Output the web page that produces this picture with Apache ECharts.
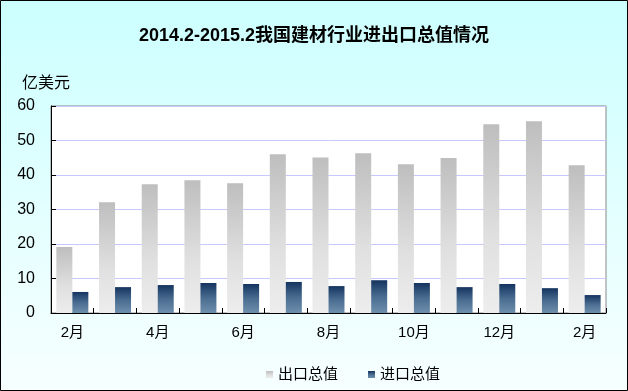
<!DOCTYPE html>
<html><head><meta charset="utf-8">
<script src="https://cdn.jsdelivr.net/npm/echarts@6/dist/echarts.min.js"></script>
<style>html,body{margin:0;padding:0;}#c{width:628px;height:391px;}</style>
</head><body><div id="c"></div>
<script>
var categories = ['2月','3月','4月','5月','6月','7月','8月','9月','10月','11月','12月','1月','2月'];
var exportValues = [19.1, 32.1, 37.3, 38.5, 37.6, 46.0, 45.1, 46.3, 43.1, 44.9, 54.7, 55.6, 42.8];
var importValues = [6.1, 7.5, 8.1, 8.7, 8.4, 9.0, 7.8, 9.5, 8.7, 7.5, 8.4, 7.2, 5.2];
var seriesNames = ['出口总值', '进口总值'];
var yTicks = {min: 0, max: 60, interval: 10};

var font = 'Liberation Sans, Arial, "Noto Sans CJK SC", sans-serif';
var chart = echarts.init(document.getElementById('c'));
chart.setOption({
  animation: false,
  backgroundColor: new echarts.graphic.LinearGradient(0,0,0,1,[{offset:0,color:'#CCFFFF'},{offset:1,color:'#F7FFFF'}]),
  graphic: [{type:'rect', shape:{x:0.5,y:0.5,width:627,height:390}, style:{fill:'none',stroke:'#000',lineWidth:1}, z:100}],
  title: {text:'2014.2-2015.2我国建材行业进出口总值情况', left:'center', top:22,
    textStyle:{fontFamily:font, fontSize:18, fontWeight:'bold', color:'#000'}},
  legend: {top:362, left:261, itemWidth:7, itemHeight:7, itemGap:30,
    textStyle:{fontFamily:font, fontSize:15, color:'#000'},
    data:[{name:seriesNames[0], icon:'rect'},{name:seriesNames[1], icon:'rect'}]},
  grid: {left:51, right:22, top:106, bottom:78, outerBoundsMode:'none', containLabel:false,
    show:true, backgroundColor:'#fff', borderColor:'#888', borderWidth:1},
  xAxis: {type:'category', data:categories,
    axisLine:{lineStyle:{color:'#000', width:1}},
    axisTick:{show:true, inside:true, length:5, interval:0, lineStyle:{color:'#000'}},
    axisLabel:{interval:1, color:'#000', fontFamily:font, fontSize:15, margin:12}},
  yAxis: {type:'value', min:yTicks.min, max:yTicks.max, interval:yTicks.interval,
    name:'亿美元', nameLocation:'end', nameGap:14, nameTextStyle:{fontFamily:font, fontSize:16, color:'#000', align:'center', padding:[0,10,0,0]},
    axisLine:{show:true, lineStyle:{color:'#000'}},
    axisTick:{show:true, inside:true, length:5, lineStyle:{color:'#000'}},
    axisLabel:{color:'#000', fontFamily:font, fontSize:16, margin:16},
    splitLine:{lineStyle:{color:'#C8C8FF'}}},
  series: [
    {name:seriesNames[0], type:'bar', data:exportValues, barWidth:16, barGap:'0%',
      itemStyle:{color:new echarts.graphic.LinearGradient(0,0,0,1,[{offset:0,color:'#BEBEBE'},{offset:0.6,color:'#E0E0E0'},{offset:1,color:'#EDEDED'}])}},
    {name:seriesNames[1], type:'bar', data:importValues, barWidth:16,
      itemStyle:{color:new echarts.graphic.LinearGradient(0,0,0,1,[{offset:0,color:'#14345F'},{offset:0.5,color:'#4A6C90'},{offset:1,color:'#6E8FAC'}])}}
  ]
});
</script></body></html>
